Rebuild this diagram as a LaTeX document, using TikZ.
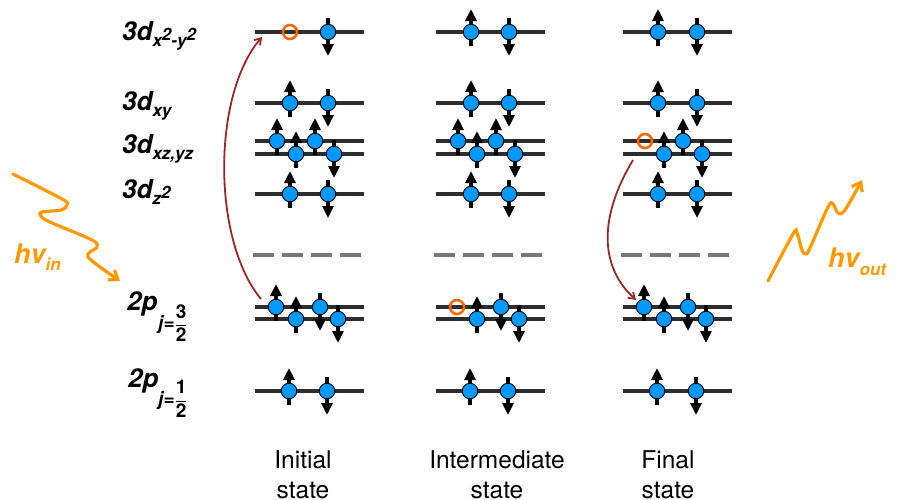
\documentclass[tikz,border=0pt]{standalone}
\usepackage{fontspec}
\setmainfont{TeX Gyre Heros}
\usetikzlibrary{arrows.meta}
\definecolor{eblue}{RGB}{0,153,255}
\definecolor{lvl}{RGB}{45,45,45}
\definecolor{dgray}{RGB}{120,120,120}
\definecolor{horange}{RGB}{255,102,0}
\definecolor{worange}{RGB}{255,153,0}
\definecolor{dred}{RGB}{155,40,40}
\newcommand\sbs[2]{\raisebox{-#1pt}{\fontsize{17}{17}\selectfont #2}}
\newcommand\eu[3]{\draw[spin] (#2,#3+14) -- (#2,#3-23); \node[electron] (#1) at (#2,#3) {};}
\newcommand\ed[3]{\draw[spin] (#2,#3-14) -- (#2,#3+24); \node[electron] (#1) at (#2,#3) {};}
\newcommand\eh[3]{\node[hole] (#1) at (#2,#3) {};}
\newcommand\lv[2]{\draw[level] (255+#1,#2) -- (364+#1,#2);}
\newcommand\dlv[2]{\draw[dlevel] (253+#1,#2) -- (364+#1,#2);}
\newcommand\up[1]{\mbox{\upshape #1}}
\begin{document}
\begin{tikzpicture}[x=1pt,y=-1pt,
  level/.style={draw=lvl, line width=3.3pt},
  dlevel/.style={draw=dgray, line width=3.3pt, dash pattern=on 21pt off 8pt},
  electron/.style={circle, fill=eblue, draw=black, line width=0.9pt, minimum size=15.5pt, inner sep=0pt},
  hole/.style={circle, draw=horange, line width=2.6pt, minimum size=14pt, inner sep=0pt},
  spin/.style={draw=black, line width=3.3pt, -{Triangle[length=12pt,width=11pt]}},
  orb/.style={font=\fontsize{26}{28}\selectfont\bfseries\itshape, inner sep=0pt, anchor=base west},
  frac/.style={font=\fontsize{19}{20}\selectfont\bfseries\itshape, inner sep=0pt, anchor=west},
  trans/.style={draw=dred, line width=1.8pt, -{Straight Barb[length=6pt,width=8pt]}},
  photon/.style={draw=worange, line width=3.2pt, line cap=round, -{Straight Barb[length=8pt,width=12pt]}},
  hv/.style={text=worange, font=\fontsize{27}{28}\selectfont\bfseries\itshape, inner sep=0pt, anchor=base west},
  state/.style={font=\fontsize{24.5}{30}\selectfont, align=center, anchor=base, inner sep=0pt}]
\useasboundingbox (0,0) rectangle (899,499);

% level lines
\foreach \c in {0,181,368}{
  \lv{\c}{32}
  \lv{\c}{103}
  \lv{\c}{141}
  \lv{\c}{154}
  \lv{\c}{194}
  \dlv{\c}{255}
  \lv{\c}{307}
  \lv{\c}{319}
  \lv{\c}{391}
}

% ---- Initial state ----
\eh{a1}{290}{32}  \ed{a2}{328}{32}
\eu{b1}{290}{103} \ed{b2}{328}{103}
\eu{c1}{277}{141} \eu{c2}{315}{141}
\eu{c3}{296}{154} \ed{c4}{334}{154}
\eu{d1}{290}{194} \ed{d2}{328}{194}
\eu{p1}{276}{307} \ed{p2}{320}{307}
\eu{p3}{296}{319} \ed{p4}{338}{319}
\eu{q1}{289}{391} \ed{q2}{327}{391}

% ---- Intermediate state ----
\eu{A1}{471}{32}  \ed{A2}{509}{32}
\eu{B1}{471}{103} \ed{B2}{509}{103}
\eu{C1}{458}{141} \eu{C2}{496}{141}
\eu{C3}{477}{154} \ed{C4}{515}{154}
\eu{D1}{471}{194} \ed{D2}{509}{194}
\eh{P1}{457}{307} \ed{P2}{501}{307}
\eu{P3}{477}{319} \ed{P4}{519}{319}
\eu{Q1}{470}{391} \ed{Q2}{508}{391}

% ---- Final state ----
\eu{x1}{658}{32}  \ed{x2}{697}{32}
\eu{y1}{658}{103} \ed{y2}{697}{103}
\eh{z1}{645}{141} \eu{z2}{683}{141}
\eu{z3}{664}{154} \ed{z4}{702}{154}
\eu{w1}{658}{194} \ed{w2}{697}{194}
\eu{u1}{644}{307} \ed{u2}{688}{307}
\eu{u3}{664}{319} \ed{u4}{706}{319}
\eu{v1}{657}{391} \ed{v2}{696}{391}

% transitions
\coordinate (t1s) at (261,299);
\coordinate (t1e) at (262,37);
\draw[trans] (t1s) .. controls (212,240) and (212,95) .. (t1e);
\coordinate (t2s) at (633,160);
\coordinate (t2e) at (636,300);
\draw[trans] (t2s) .. controls (600,215) and (598,265) .. (t2e);

% orbital labels
\node[orb] (l1) at (122,40) {3d\sbs{6}{x\raisebox{6pt}{2}-y\raisebox{6pt}{2}}};
\node[orb] (l2) at (122,110) {3d\sbs{6}{xy}};
\node[orb] (l3) at (122,153) {3d\sbs{6}{xz,yz}};
\node[orb] (l4) at (122,198) {3d\sbs{6}{z\raisebox{6pt}{2}}};
\node[orb] (l5) at (127,310) {2p};
\node[frac] (l5s) at (158,323) {j=\ensuremath{\displaystyle\frac{\up{3}}{\up{2}}}};
\node[orb] (l6) at (128,387) {2p};
\node[frac] (l6s) at (158,399) {j=\ensuremath{\displaystyle\frac{\up{1}}{\up{2}}}};

% photons
\coordinate (wi0) at (13,174);
\coordinate (wi1) at (120,281);
\draw[photon] plot[smooth, tension=0.55] coordinates {(wi0) (62,199) (67,205) (61,210) (42,212) (41,216) (50,222) (92,240) (97,247) (90,252) (88,257) (100,267) (wi1)};
\node[hv] (hin) at (14,263) {hv\sbs{7}{in}};
\coordinate (wo0) at (768,281);
\coordinate (wo1) at (862,180);
\draw[photon] plot[smooth, tension=0.55] coordinates {(wo0) (793,234) (797,233) (802,250) (806,254) (810,248) (828,207) (833,204) (838,213) (845,210) (wo1)};
\node[hv] (hout) at (828,267) {hv\sbs{8}{out}};

% state labels
\node[state] (s1) at (303,498) {Initial\\state};
\node[state] (s2) at (497,498) {Intermediate\\state};
\node[state] (s3) at (668,498) {Final\\state};
\end{tikzpicture}
\end{document}
